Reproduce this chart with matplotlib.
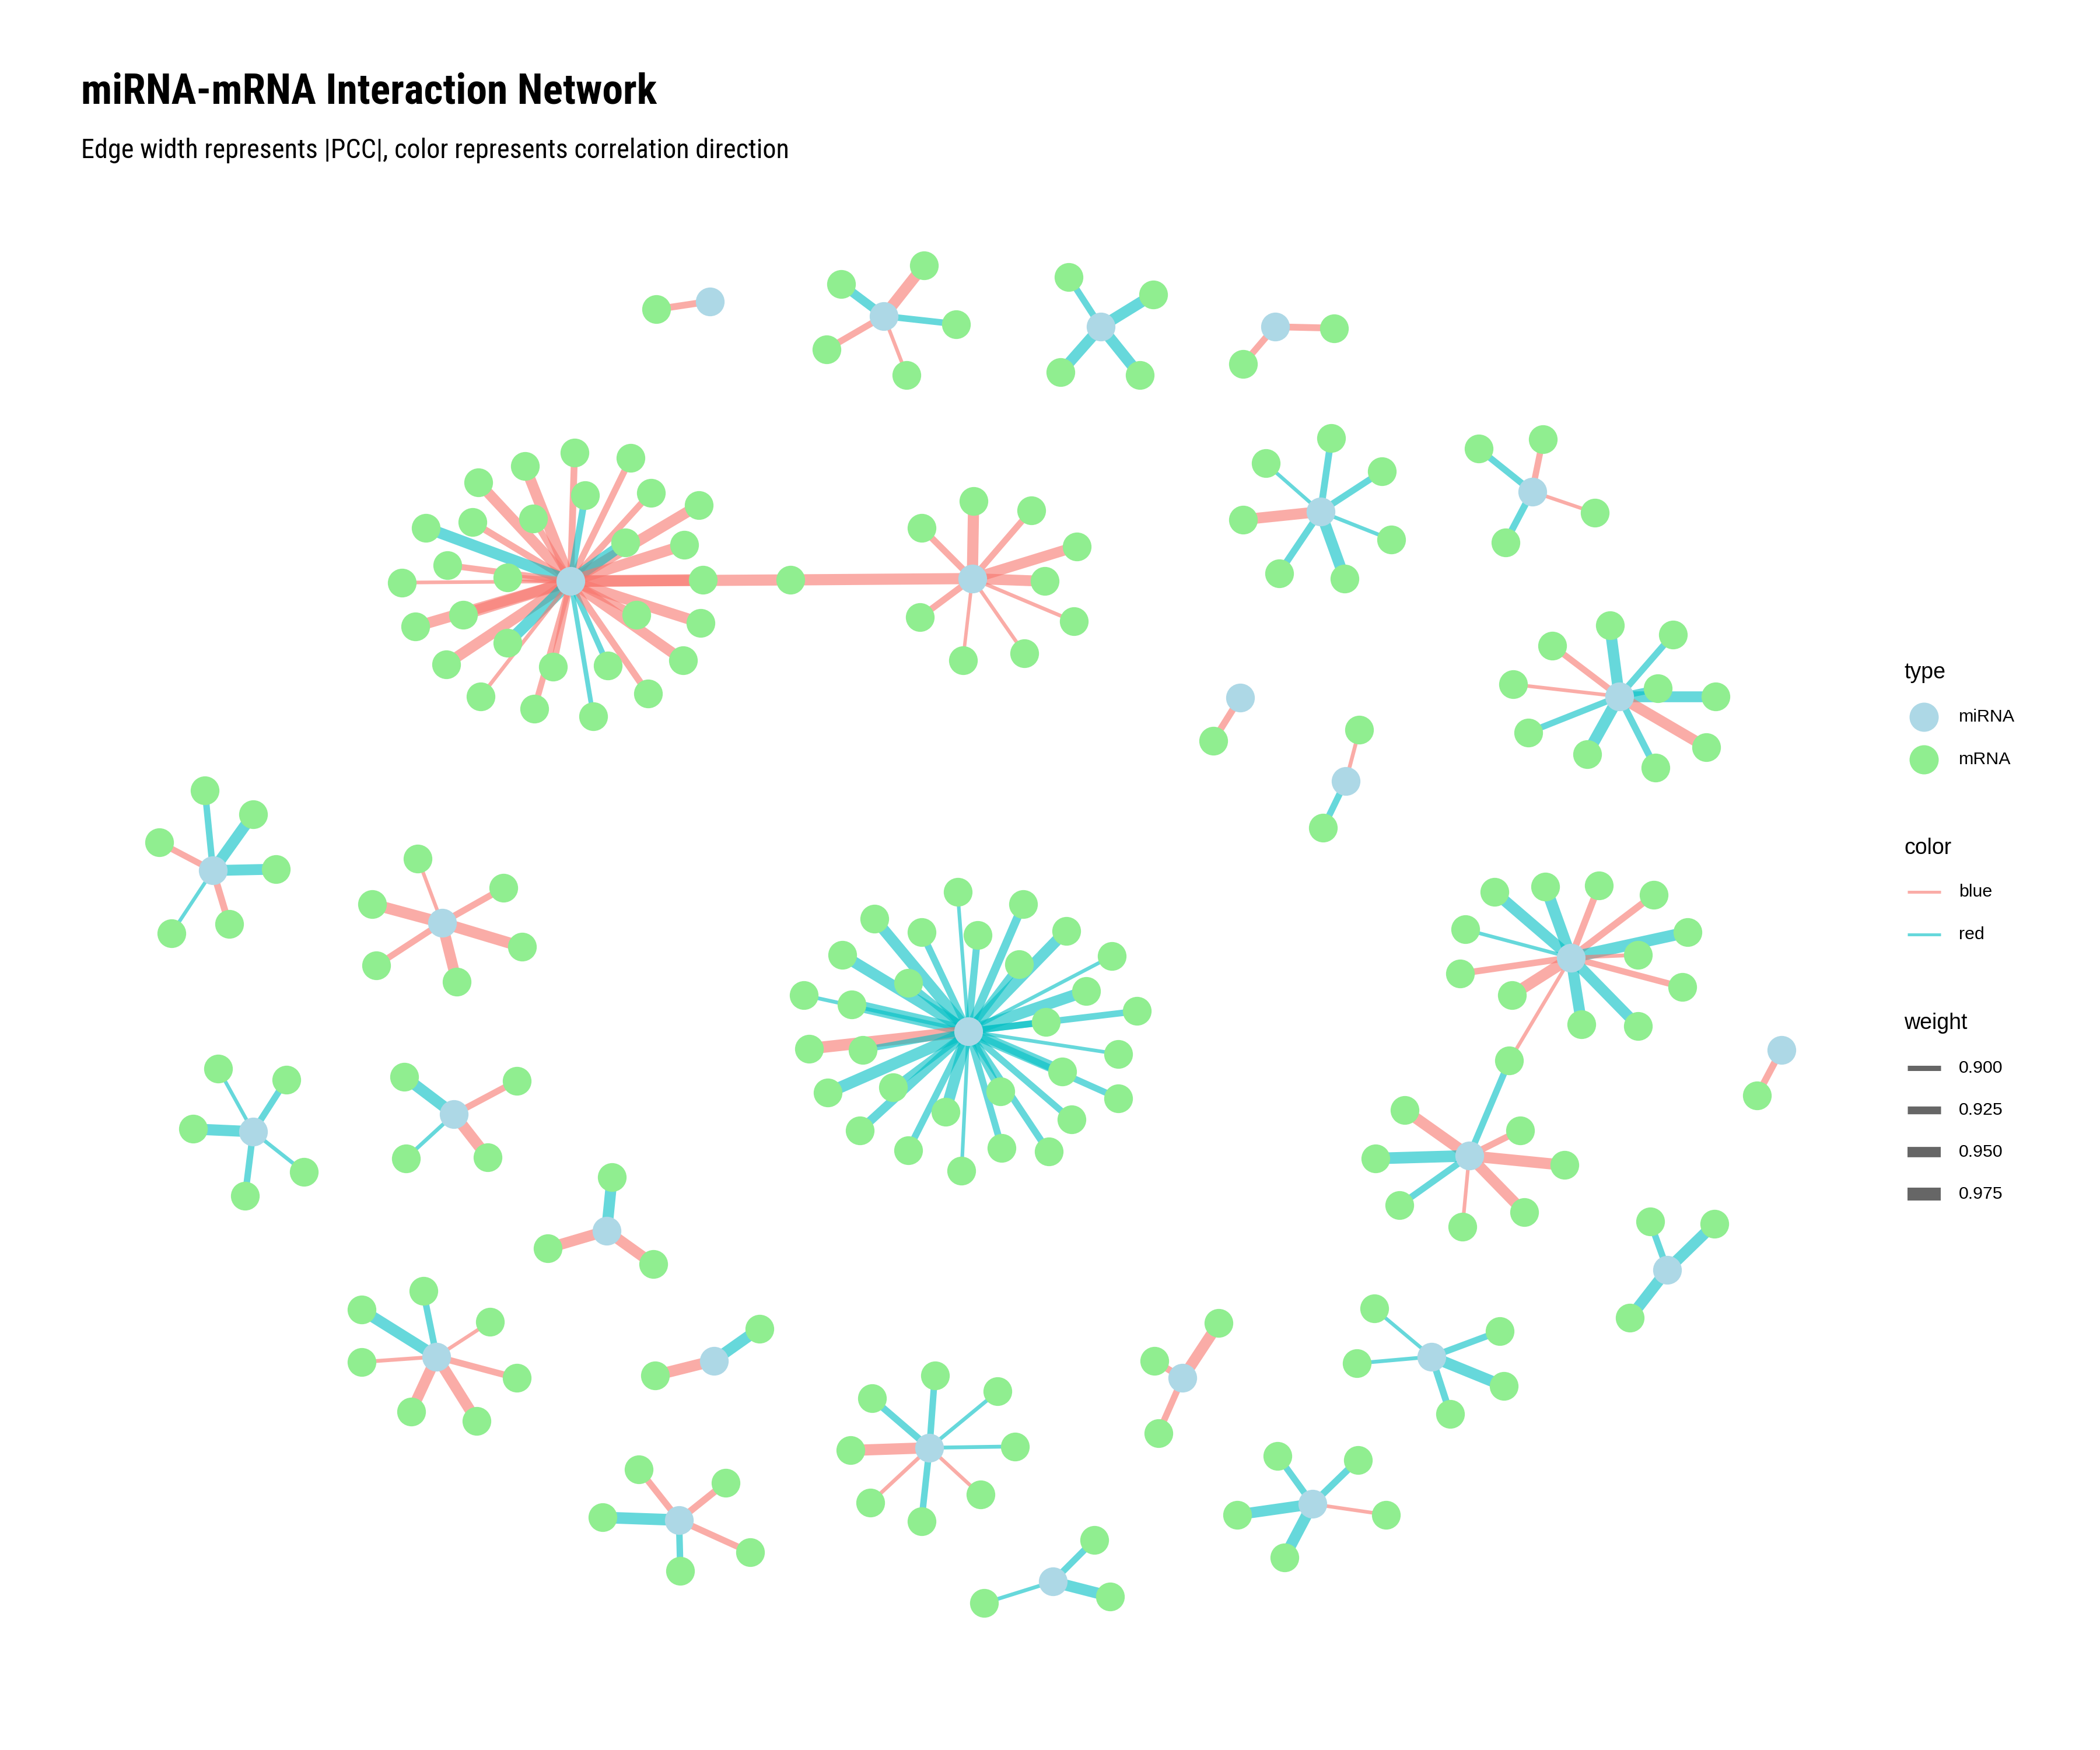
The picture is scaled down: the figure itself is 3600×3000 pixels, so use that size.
import numpy as np
import matplotlib.pyplot as plt
from matplotlib import font_manager
from matplotlib.collections import LineCollection
from matplotlib.lines import Line2D

plt.rcParams['font.family'] = ['Liberation Sans', 'DejaVu Sans']


def narrow_families(need_bold):
    # installed narrow/condensed families, optionally only those with a bold face
    fams = {}
    for f in font_manager.fontManager.ttflist:
        if 'Narrow' in f.name or 'Condensed' in f.name:
            w = f.weight if isinstance(f.weight, int) else font_manager.weight_dict.get(f.weight, 400)
            fams.setdefault(f.name, set()).add(w)
    names = [n for n, ws in fams.items() if not need_bold or max(ws) >= 700]
    pref = ['Liberation', 'Nimbus', 'Arial', 'Roboto', 'Open Sans', 'DejaVu']
    return sorted(names, key=lambda n: ([p in n for p in pref].index(True) if any(p in n for p in pref) else 9, n))


bold_narrow = narrow_families(True)
any_narrow = narrow_families(False)
if bold_narrow:
    title_family, title_size = [bold_narrow[0], 'Liberation Sans'], 17.2
else:
    title_family, title_size = ['Liberation Sans'], 14.7
if any_narrow:
    subtitle_family, subtitle_size = [any_narrow[0], 'Liberation Sans'], 11.1
else:
    subtitle_family, subtitle_size = ['Liberation Sans'], 9.8

# miRNA hubs (layout coordinates, y grows downwards)
mirna_x = [530, 660, 822, 952, 426, 726, 986, 1144, 926, 1005, 1209, 159, 330, 723, 1173,
           1097, 1330, 189, 339, 453, 326, 533, 694, 507, 786, 883, 980, 1069, 1245]
mirna_y = [225, 236, 244, 244, 434, 432, 382, 367, 521, 583, 520, 650, 689, 770, 715,
           863, 784, 845, 832, 919, 1013, 1016, 1081, 1135, 1181, 1029, 1123, 1013, 948]
n_targets = [1, 5, 4, 2, 30, 9, 7, 4, 1, 2, 10, 6, 6, 30, 12,
             8, 1, 5, 4, 3, 7, 2, 8, 5, 3, 3, 5, 5, 3]

# mRNA targets, grouped by hub in the order above
mrna_x = [
    490,
    628, 690, 714, 677, 617,
    798, 861, 851, 792,
    996, 928,
    429, 471, 392, 357, 437, 486, 522, 398, 353, 318, 467, 511, 334, 379, 300,
    525, 523, 475, 346, 310, 510, 333, 379, 413, 454, 484, 359, 399, 443, 590,
    688, 727, 770, 804, 780, 802, 765, 719, 687,
    945, 994, 1032, 1039, 1004, 955, 928,
    1104, 1152, 1191, 1124,
    906,
    1015, 988,
    1202, 1249, 1238, 1281, 1274, 1236, 1185, 1141, 1130, 1159,
    153, 189, 206, 171, 128, 119,
    312, 376, 390, 341, 281, 278,
    715, 764, 653, 688, 730, 796, 629, 761, 830, 678, 811, 600, 636, 849, 781,
    604, 644, 835, 793, 618, 667, 835, 747, 706, 800, 642, 678, 748, 783, 718,
    1116, 1154, 1194, 1235, 1094, 1260, 1223, 1090, 1129, 1256, 1181, 1223,
    1049, 1135, 1168, 1138, 1092, 1045, 1027, 1127,
    1312,
    163, 214, 227, 183, 144,
    302, 386, 364, 303,
    457, 488, 409,
    270, 316, 366, 386, 356, 307, 270,
    567, 489,
    651, 698, 745, 758, 732, 688, 650, 635,
    477, 542, 560, 508, 450,
    817, 829, 735,
    910, 862, 865,
    954, 1014, 1035, 959, 924,
    1026, 1120, 1123, 1083, 1013,
    1232, 1280, 1217,
]
mrna_y = [
    231,
    212, 198, 242, 280, 261,
    207, 220, 280, 278,
    245, 272,
    338, 342, 348, 360, 370, 368, 377, 387, 390, 394, 405, 407, 422, 431, 435,
    433, 465, 459, 459, 468, 493, 496, 480, 498, 497, 518, 520, 529, 535, 433,
    394, 374, 381, 408, 434, 464, 488, 493, 461,
    346, 327, 352, 403, 432, 428, 388,
    335, 328, 383, 405,
    553,
    545, 618,
    467, 474, 514, 520, 558, 573, 563, 547, 511, 482,
    590, 608, 649, 690, 697, 629,
    641, 663, 707, 733, 721, 675,
    666, 675, 686, 696, 698, 695, 713, 720, 714, 734, 740, 743, 750, 755, 763,
    783, 784, 787, 800, 816, 812, 820, 815, 830, 836, 844, 859, 857, 860, 874,
    666, 662, 661, 668, 694, 696, 713, 727, 743, 737, 765, 766,
    829, 844, 870, 905, 916, 900, 865, 792,
    818,
    798, 806, 875, 893, 843,
    804, 807, 864, 865,
    879, 944, 932,
    978, 964, 987, 1029, 1061, 1054, 1017,
    992, 1027,
    1044, 1027, 1039, 1080, 1116, 1136, 1122, 1083,
    1097, 1107, 1159, 1173, 1133,
    1150, 1192, 1197,
    988, 1016, 1070,
    1087, 1090, 1131, 1163, 1131,
    977, 994, 1035, 1056, 1018,
    912, 914, 984,
]

# correlation direction of each hub -> target edge (b = "blue", r = "red") and |PCC|
edge_dir = list(
    "b" "rbrbb" "rrrr" "bb"
    "bbbbrbbbbrrbbbbbbbbbbbrbrbbbrb"
    "bbbbbbbbb" "rrrrrrb" "rbbr" "b" "br" "rrrrbrrrbb" "rrrbrb" "bbbbbb"
    "rrrrrrrrrrrrrrrbrrrrrrrrrrrrrr"
    "rrbbrrbbbbrr" "bbbbbrrr" "b" "rrrrr" "rbbr" "rbb" "rrbbbbb" "rb"
    "rrrrbrbb" "bbbrr" "rrr" "bbb" "rrbrr" "rrrrr" "rrr"
)
edge_pcc = [
    0.915,
    0.935, 0.958, 0.912, 0.884, 0.912,
    0.912, 0.958, 0.958, 0.955,
    0.915, 0.912,
    0.915, 0.912, 0.955, 0.952, 0.915, 0.912, 0.955, 0.910, 0.915, 0.958, 0.960, 0.955, 0.908, 0.910, 0.884,
    0.962, 0.955, 0.915, 0.960, 0.955, 0.952, 0.955, 0.962, 0.912, 0.905, 0.915, 0.886, 0.908, 0.895, 0.958,
    0.912, 0.958, 0.910, 0.952, 0.955, 0.885, 0.884, 0.882, 0.912,
    0.884, 0.915, 0.912, 0.886, 0.958, 0.915, 0.955,
    0.912, 0.910, 0.884, 0.915,
    0.915,
    0.886, 0.912,
    0.958, 0.912, 0.915, 0.955, 0.955, 0.915, 0.962, 0.910, 0.884, 0.910,
    0.912, 0.958, 0.955, 0.915, 0.884, 0.910,
    0.884, 0.912, 0.958, 0.955, 0.910, 0.958,
    0.884, 0.930, 0.958, 0.915, 0.918, 0.958, 0.958, 0.915, 0.884, 0.912, 0.960, 0.886, 0.958, 0.912, 0.915,
    0.962, 0.905, 0.884, 0.958, 0.962, 0.915, 0.912, 0.915, 0.958, 0.912, 0.935, 0.915, 0.915, 0.915, 0.884,
    0.958, 0.962, 0.915, 0.915, 0.884, 0.962, 0.886, 0.912, 0.958, 0.910, 0.958, 0.955,
    0.958, 0.912, 0.958, 0.955, 0.884, 0.912, 0.962, 0.912,
    0.915,
    0.884, 0.912, 0.886, 0.912, 0.958,
    0.958, 0.912, 0.958, 0.886,
    0.958, 0.955, 0.955,
    0.958, 0.912, 0.884, 0.912, 0.955, 0.955, 0.886,
    0.958, 0.958,
    0.915, 0.912, 0.886, 0.886, 0.884, 0.912, 0.886, 0.958,
    0.912, 0.915, 0.912, 0.912, 0.962,
    0.912, 0.958, 0.886,
    0.958, 0.915, 0.912,
    0.912, 0.915, 0.884, 0.958, 0.955,
    0.884, 0.912, 0.958, 0.915, 0.886,
    0.912, 0.958, 0.958,
]

# targets that are linked to a second hub: second hub, owner hub, position in owner's list
shared_hub = [5, 14]
shared_owner = [4, 15]
shared_pos = [29, 7]
shared_dir = ['b', 'b']
shared_pcc = [0.958, 0.884]

dir_colors = {'b': '#F8766D', 'r': '#00BFC4'}
dir_labels = {'b': 'blue', 'r': 'red'}
type_colors = {'miRNA': '#ADD8E6', 'mRNA': '#90EE90'}
weight_breaks = [0.900, 0.925, 0.950, 0.975]
edge_alpha = 0.6


def pcc_width(w):
    # edge width in points (300 dpi canvas)
    return (9 + (np.asarray(w) - 0.9) * 175) * 72 / 300


hub_of = np.repeat(np.arange(len(mirna_x)), n_targets)
start = np.concatenate([[0], np.cumsum(n_targets)])

segs, cols, widths = [], [], []
for i in range(len(mrna_x)):
    h = hub_of[i]
    segs.append([(mirna_x[h], mirna_y[h]), (mrna_x[i], mrna_y[i])])
    cols.append(dir_colors[edge_dir[i]])
    widths.append(pcc_width(edge_pcc[i]))
for h, o, p, d, w in zip(shared_hub, shared_owner, shared_pos, shared_dir, shared_pcc):
    j = start[o] + p
    segs.append([(mirna_x[h], mirna_y[h]), (mrna_x[j], mrna_y[j])])
    cols.append(dir_colors[d])
    widths.append(pcc_width(w))

fig = plt.figure(figsize=(12, 10), dpi=300)
ax = fig.add_axes([0, 0, 1, 1])
ax.set_xlim(0, 1568)
ax.set_ylim(1568 * 10 / 12, 0)
ax.axis('off')

lc = LineCollection(segs, colors=cols, linewidths=widths, alpha=edge_alpha, capstyle='butt', zorder=1)
ax.add_collection(lc)
ax.scatter(mrna_x, mrna_y, s=140, c=type_colors['mRNA'], linewidths=0, zorder=2)
ax.scatter(mirna_x, mirna_y, s=140, c=type_colors['miRNA'], linewidths=0, zorder=3)

# titles
W, H = 3600, 3000
fig.text(139 / W, 1 - 178 / H, 'miRNA-mRNA Interaction Network', fontsize=title_size, fontweight='bold',
         family=title_family, va='baseline', ha='left')
fig.text(139 / W, 1 - 271 / H, 'Edge width represents |PCC|, color represents correlation direction',
         fontsize=subtitle_size, family=subtitle_family, va='baseline', ha='left')

# legends
kx0, kx1, lx = 3270 / W, 3327 / W, 3358 / W
title_fs, label_fs = 9, 7.3
fig.text(3264 / W, 1 - 1163 / H, 'type', fontsize=title_fs, va='baseline')
for name, yy in zip(['miRNA', 'mRNA'], [1229, 1302]):
    fig.add_artist(Line2D([3298 / W], [1 - yy / H], marker='o', markersize=12, linestyle='none',
                          markerfacecolor=type_colors[name], markeredgewidth=0))
    fig.text(lx, 1 - yy / H, name, fontsize=label_fs, va='center')

fig.text(3264 / W, 1 - 1464 / H, 'color', fontsize=title_fs, va='baseline')
for d, yy in zip(['b', 'r'], [1529, 1602]):
    fig.add_artist(Line2D([kx0, kx1], [1 - yy / H] * 2, color=dir_colors[d], alpha=edge_alpha,
                          linewidth=1.2, solid_capstyle='butt'))
    fig.text(lx, 1 - yy / H, dir_labels[d], fontsize=label_fs, va='center')

fig.text(3264 / W, 1 - 1764 / H, 'weight', fontsize=title_fs, va='baseline')
for wb, yy in zip(weight_breaks, [1831, 1903, 1975, 2047]):
    fig.add_artist(Line2D([kx0, kx1], [1 - yy / H] * 2, color='black', alpha=edge_alpha,
                          linewidth=pcc_width(wb), solid_capstyle='butt'))
    fig.text(lx, 1 - yy / H, f'{wb:.3f}', fontsize=label_fs, va='center')

fig.savefig('out.png', dpi=300, facecolor='white')
